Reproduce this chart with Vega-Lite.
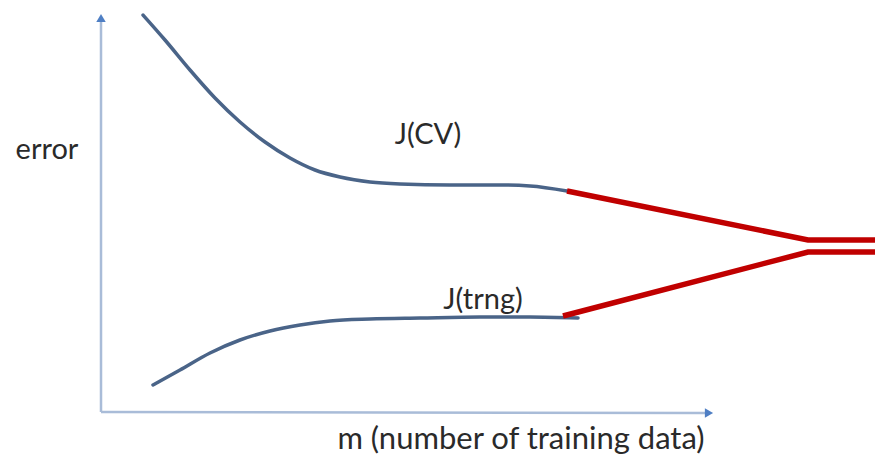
{
  "$schema": "https://vega.github.io/schema/vega-lite/v6.json",
  "width": 875,
  "height": 459,
  "autosize": "none",
  "padding": 0,
  "background": "white",
  "config": {"view": {"stroke": null}},
  "datasets": {
    "curves": [
      {"series": "J(CV)", "m": 143, "error": 444},
      {"series": "J(CV)", "m": 165, "error": 419},
      {"series": "J(CV)", "m": 190, "error": 389},
      {"series": "J(CV)", "m": 215, "error": 361},
      {"series": "J(CV)", "m": 240, "error": 337},
      {"series": "J(CV)", "m": 265, "error": 317},
      {"series": "J(CV)", "m": 290, "error": 301},
      {"series": "J(CV)", "m": 315, "error": 289},
      {"series": "J(CV)", "m": 340, "error": 282},
      {"series": "J(CV)", "m": 370, "error": 277},
      {"series": "J(CV)", "m": 400, "error": 275},
      {"series": "J(CV)", "m": 450, "error": 274},
      {"series": "J(CV)", "m": 500, "error": 274},
      {"series": "J(CV)", "m": 530, "error": 273},
      {"series": "J(CV)", "m": 567, "error": 268},
      {"series": "J(trng)", "m": 153, "error": 74},
      {"series": "J(trng)", "m": 180, "error": 89},
      {"series": "J(trng)", "m": 210, "error": 106},
      {"series": "J(trng)", "m": 240, "error": 119},
      {"series": "J(trng)", "m": 270, "error": 128},
      {"series": "J(trng)", "m": 300, "error": 134},
      {"series": "J(trng)", "m": 330, "error": 138},
      {"series": "J(trng)", "m": 370, "error": 140},
      {"series": "J(trng)", "m": 420, "error": 141},
      {"series": "J(trng)", "m": 480, "error": 142},
      {"series": "J(trng)", "m": 530, "error": 142},
      {"series": "J(trng)", "m": 578, "error": 141}
    ],
    "extrap": [
      {"series": "upper", "m": 567, "error": 268},
      {"series": "upper", "m": 808, "error": 219},
      {"series": "upper", "m": 875, "error": 219},
      {"series": "lower", "m": 563, "error": 143},
      {"series": "lower", "m": 808, "error": 207},
      {"series": "lower", "m": 875, "error": 207}
    ],
    "axes": [
      {"axis": "y", "m": 101, "error": 47, "m2": 101, "error2": 440},
      {"axis": "x", "m": 101, "error": 47, "m2": 707, "error2": 46}
    ],
    "arrows": [
      {"axis": "y", "m": 101, "error": 441, "shape": "triangle-up"},
      {"axis": "x", "m": 709, "error": 46, "shape": "triangle-right"}
    ],
    "labels": [
      {"text": "error", "m": 47, "error": 309, "size": 29},
      {"text": "J(CV)", "m": 428, "error": 324, "size": 29},
      {"text": "J(trng)", "m": 483, "error": 159, "size": 29},
      {"text": "m (number of training data)", "m": 521, "error": 19, "size": 31}
    ]
  },
  "layer": [
    {
      "data": {"name": "axes"},
      "mark": {"type": "rule", "color": "#a9bcd8", "strokeWidth": 2.5},
      "encoding": {
        "x": {"field": "m", "type": "quantitative", "scale": {"domain": [0, 875], "nice": false, "zero": false}, "axis": null},
        "y": {"field": "error", "type": "quantitative", "scale": {"domain": [0, 459], "nice": false, "zero": false}, "axis": null},
        "x2": {"field": "m2"},
        "y2": {"field": "error2"}
      }
    },
    {
      "data": {"name": "arrows"},
      "mark": {"type": "point", "filled": true, "color": "#4f7fc4", "opacity": 1, "size": 90},
      "encoding": {
        "x": {"field": "m", "type": "quantitative"},
        "y": {"field": "error", "type": "quantitative"},
        "shape": {"field": "shape", "type": "nominal", "scale": null}
      }
    },
    {
      "data": {"name": "curves"},
      "mark": {"type": "line", "interpolate": "monotone", "color": "#4a6488", "strokeWidth": 3.5, "strokeCap": "round"},
      "encoding": {
        "x": {"field": "m", "type": "quantitative"},
        "y": {"field": "error", "type": "quantitative"},
        "detail": {"field": "series"}
      }
    },
    {
      "data": {"name": "extrap"},
      "mark": {"type": "line", "color": "#c00000", "strokeWidth": 5.5},
      "encoding": {
        "x": {"field": "m", "type": "quantitative"},
        "y": {"field": "error", "type": "quantitative"},
        "detail": {"field": "series"}
      }
    },
    {
      "data": {"name": "labels"},
      "mark": {"type": "text", "font": "Lato", "color": "#2a2a2a", "baseline": "middle", "align": "center"},
      "encoding": {
        "x": {"field": "m", "type": "quantitative"},
        "y": {"field": "error", "type": "quantitative"},
        "text": {"field": "text"},
        "size": {"field": "size", "type": "quantitative", "scale": null}
      }
    }
  ]
}
